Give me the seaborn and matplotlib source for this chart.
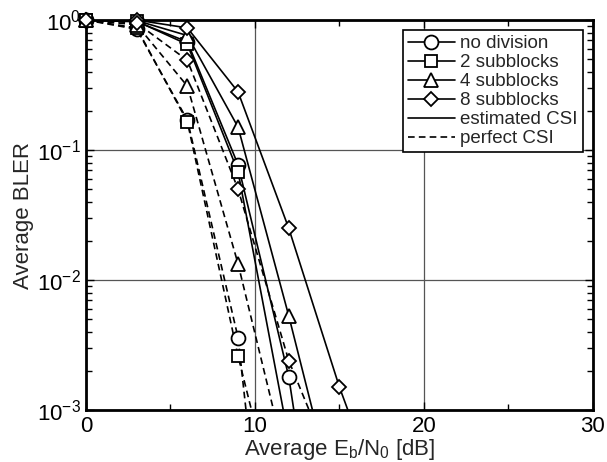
import numpy as np
import pandas as pd
import matplotlib
matplotlib.use('Agg')
import matplotlib.pyplot as plt
from matplotlib.lines import Line2D
from matplotlib.ticker import MultipleLocator, LogLocator, NullFormatter
import seaborn as sns

# Eb/N0 points [dB]
ebn0 = [0, 3, 6, 9, 12, 15, 18]

# estimated CSI
no_div_est = [1.0, 0.97, 0.68, 0.077, 0.0018, 5e-6, np.nan]
sub2_est = [1.0, 0.98, 0.65, 0.068, 6e-4, np.nan, np.nan]
sub4_est = [1.0, 0.99, 0.76, 0.15, 0.0053, 1.5e-4, np.nan]
sub8_est = [1.0, 1.0, 0.87, 0.28, 0.025, 0.0015, 1.3e-4]

# perfect CSI
no_div_perf = [1.0, 0.85, 0.17, 0.0036, 1e-6, np.nan, np.nan]
sub2_perf = [1.0, 0.87, 0.165, 0.0026, 7e-5, np.nan, np.nan]
sub4_perf = [1.0, 0.92, 0.31, 0.0133, 3.3e-4, np.nan, np.nan]
sub8_perf = [1.0, 0.95, 0.49, 0.05, 0.0024, 2.7e-4, np.nan]

schemes = ['no division', '2 subblocks', '4 subblocks', '8 subblocks']
markers = ['o', 's', '^', 'D']
msizes = [10, 8.2, 10, 7.6]
csi_labels = ['estimated CSI', 'perfect CSI']

est = [no_div_est, sub2_est, sub4_est, sub8_est]
perf = [no_div_perf, sub2_perf, sub4_perf, sub8_perf]

rows = []
for csi, group in zip(csi_labels, [est, perf]):
    for name, vals in zip(schemes, group):
        for x, y in zip(ebn0, vals):
            rows.append({'EbN0': x, 'BLER': y, 'scheme': name, 'csi': csi})
df = pd.DataFrame(rows).dropna()

sns.set_style('ticks')
plt.rcParams['font.family'] = ['Liberation Sans', 'DejaVu Sans']
plt.rcParams['mathtext.fontset'] = 'custom'
plt.rcParams['mathtext.rm'] = 'Liberation Sans'
plt.rcParams['mathtext.it'] = 'Liberation Sans:italic'

fig = plt.figure(figsize=(6.07, 4.62), dpi=100)
ax = fig.add_axes([0.1417, 0.1126, 0.835, 0.844])

ymin, ymax = 1e-3, 1.0
dash = (0, (4, 2.5))

for csi, ls in zip(csi_labels, ['-', dash]):
    for name, mk, ms in zip(schemes, markers, msizes):
        sub = df[(df['csi'] == csi) & (df['scheme'] == name)]
        sns.lineplot(data=sub, x='EbN0', y='BLER', ax=ax, color='black',
                     linewidth=1.2, linestyle=ls, estimator=None,
                     sort=False, legend=False)
        # markers drawn fully when the point lies inside the axes
        vis = sub[(sub['BLER'] >= ymin) & (sub['BLER'] <= ymax)]
        ax.plot(vis['EbN0'], vis['BLER'], linestyle='none', marker=mk,
                markersize=ms, markerfacecolor='white',
                markeredgecolor='black', markeredgewidth=1.3,
                clip_on=False, zorder=3)

ax.set_yscale('log')
ax.set_xlim(0, 30)
ax.set_ylim(ymin, ymax)
ax.xaxis.set_major_locator(MultipleLocator(10))
ax.xaxis.set_minor_locator(MultipleLocator(5))
ax.yaxis.set_minor_locator(LogLocator(base=10, subs=np.arange(2, 10)))
ax.yaxis.set_minor_formatter(NullFormatter())
ax.grid(True, which='major', color='#555555', linewidth=0.9)

ax.tick_params(which='both', direction='in', top=True, right=True,
               labelsize=16, colors='black')
ax.tick_params(which='major', length=6, width=1)
ax.tick_params(which='minor', length=4, width=1)
ax.tick_params(axis='x', pad=4)
for s in ax.spines.values():
    s.set_linewidth(2)
    s.set_color('black')

ax.set_xlabel('Average E$_\\mathrm{b}$/N$_\\mathrm{0}$ [dB]', fontsize=16, labelpad=0)
ax.set_ylabel('Average BLER', fontsize=16, labelpad=2)

handles = []
for name, mk, ms in zip(schemes, markers, msizes):
    handles.append(Line2D([], [], color='black', linewidth=1.2, marker=mk,
                          markersize=ms, markerfacecolor='white',
                          markeredgecolor='black', markeredgewidth=1.3,
                          label=name))
handles.append(Line2D([], [], color='black', linewidth=1.2, label='estimated CSI'))
handles.append(Line2D([], [], color='black', linewidth=1.2,
                      linestyle=dash, label='perfect CSI'))

leg = ax.legend(handles=handles, loc='upper right', fontsize=13.5,
                frameon=True, fancybox=False, framealpha=1, edgecolor='black',
                handlelength=2.5, handletextpad=0.3, labelspacing=0.1,
                borderpad=0.25, borderaxespad=0.55)
leg.get_frame().set_linewidth(1.2)

fig.savefig('out.png', dpi=100)
